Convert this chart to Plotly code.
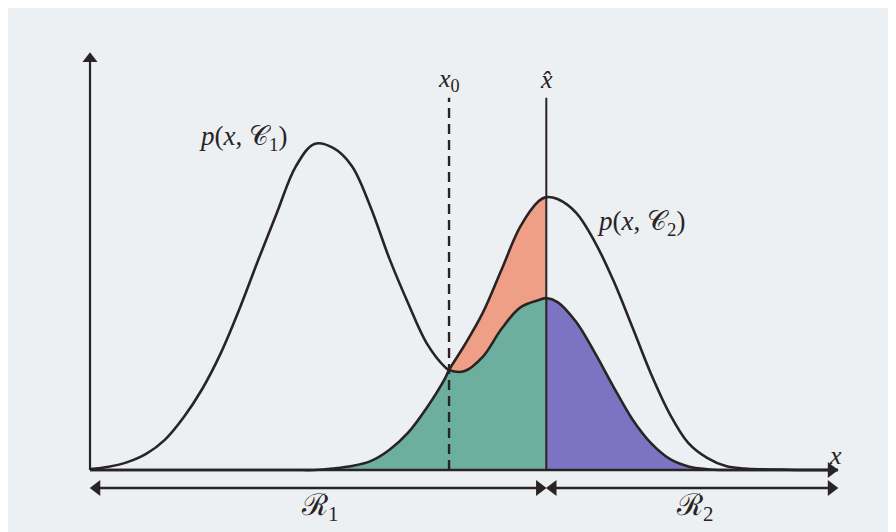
import plotly.graph_objects as go

# ---- data (arbitrary units) ----
x_grid = [0, 0.25, 0.5, 0.75, 1.0, 1.25, 1.5, 1.75, 2.0, 2.25, 2.5, 2.75, 3.0, 3.25,
          3.5, 3.75, 4.0, 4.25, 4.5, 4.75, 4.8, 5.0, 5.25, 5.5, 5.75, 6.0, 6.1, 6.25,
          6.5, 6.75, 7.0, 7.25, 7.5, 7.75, 8.0, 8.25, 8.5, 8.75, 9.0, 9.25, 9.5, 9.75, 10.0]

p_x_c1 = [0.003, 0.010, 0.024, 0.049, 0.092, 0.16, 0.247, 0.357, 0.492, 0.641, 0.785, 0.925,
          0.994, 0.982, 0.927, 0.802, 0.646, 0.510, 0.387, 0.313, 0.305, 0.301, 0.345, 0.43,
          0.495, 0.518, 0.524, 0.512, 0.451, 0.357, 0.253, 0.155, 0.082, 0.034, 0.011, 0.0025,
          0.0, 0.0, 0.0, 0.0, 0.0, 0.0, 0.0]

p_x_c2 = [0.0, 0.0, 0.0, 0.0, 0.0, 0.0, 0.0, 0.0, 0.0, 0.0, 0.0, 0.0, 0.0, 0.0045,
          0.012, 0.027, 0.061, 0.113, 0.189, 0.281, 0.305, 0.378, 0.479, 0.61, 0.741, 0.82,
          0.832, 0.826, 0.784, 0.695, 0.576, 0.436, 0.293, 0.171, 0.082, 0.037, 0.012, 0.0045,
          0.002, 0.001, 0.0, 0.0, 0.0]

x0_val = 4.8      # decision boundary x0
xhat_val = 6.1    # chosen boundary x-hat
x_axis_end = 10.0
y_axis_top = 1.274
region_arrow_y = -0.055

labels = {
    "c1": "<i>p</i>(<i>x</i>, 𝒞<sub>1</sub>)",
    "c2": "<i>p</i>(<i>x</i>, 𝒞<sub>2</sub>)",
    "x0": "<i>x</i><sub>0</sub>",
    "xhat": "<i>x̂</i>",
    "x": "<i>x</i>",
    "r1": "ℛ<sub>1</sub>",
    "r2": "ℛ<sub>2</sub>",
}

# ---- styles ----
INK = "#2a2324"
RED = "#ef9f86"
GREEN = "#6daf9f"
PURPLE = "#7c74c2"
BG = "#edf0f2"
FONT = "Liberation Serif"
HEAD = 0.09   # arrowhead inset (x units)
HEAD_Y = 0.02

i0 = x_grid.index(x0_val)
ih = x_grid.index(xhat_val)
lower = [min(a, b) for a, b in zip(p_x_c1, p_x_c2)]
upper = [max(a, b) for a, b in zip(p_x_c1, p_x_c2)]

fig = go.Figure()

# green region: under the lower envelope in R1
fig.add_trace(go.Scatter(x=x_grid[:ih + 1], y=lower[:ih + 1], mode="lines",
                         line=dict(width=0, shape="spline"), fill="tozeroy",
                         fillcolor=GREEN, hoverinfo="skip"))
# red region: between curves from x0 to x-hat
fig.add_trace(go.Scatter(x=x_grid[i0:ih + 1], y=lower[i0:ih + 1], mode="lines",
                         line=dict(width=0, shape="spline"), hoverinfo="skip"))
fig.add_trace(go.Scatter(x=x_grid[i0:ih + 1], y=upper[i0:ih + 1], mode="lines",
                         line=dict(width=0, shape="spline"), fill="tonexty",
                         fillcolor=RED, hoverinfo="skip"))
# purple region: under p(x,C1) in R2
fig.add_trace(go.Scatter(x=x_grid[ih:], y=p_x_c1[ih:], mode="lines",
                         line=dict(width=0, shape="spline"), fill="tozeroy",
                         fillcolor=PURPLE, hoverinfo="skip"))

# curves
fig.add_trace(go.Scatter(x=x_grid, y=p_x_c1, mode="lines",
                         line=dict(color=INK, width=2.6, shape="spline"), hoverinfo="skip"))
fig.add_trace(go.Scatter(x=x_grid, y=p_x_c2, mode="lines",
                         line=dict(color=INK, width=2.6, shape="spline"), hoverinfo="skip"))

# vertical lines
fig.add_trace(go.Scatter(x=[x0_val, x0_val], y=[0, 1.135], mode="lines",
                         line=dict(color=INK, width=2.4, dash="10px,6px"), hoverinfo="skip"))
fig.add_trace(go.Scatter(x=[xhat_val, xhat_val], y=[0, 1.135], mode="lines",
                         line=dict(color=INK, width=2.0), hoverinfo="skip"))

def seg(xs, ys, w=2.4):
    fig.add_trace(go.Scatter(x=xs, y=ys, mode="lines", line=dict(color=INK, width=w),
                             hoverinfo="skip"))

def heads(xs, ys, symbols, size=14):
    fig.add_trace(go.Scatter(x=xs, y=ys, mode="markers",
                             marker=dict(symbol=symbols, size=size, color=INK,
                                         line=dict(width=0)),
                             hoverinfo="skip"))

# axes
seg([0, x_axis_end - HEAD], [0, 0], 2.6)
seg([0, 0], [0, y_axis_top - HEAD_Y], 2.2)
heads([x_axis_end - HEAD], [0], ["triangle-right"])
heads([0], [y_axis_top - HEAD_Y], ["triangle-up"], 13)

# region arrows
seg([HEAD, xhat_val - HEAD], [region_arrow_y] * 2)
seg([xhat_val + HEAD, x_axis_end - HEAD], [region_arrow_y] * 2)
heads([HEAD, xhat_val - HEAD, xhat_val + HEAD, x_axis_end - HEAD], [region_arrow_y] * 4,
      ["triangle-left", "triangle-right", "triangle-left", "triangle-right"])

def label(key, x, y, size=27):
    fig.add_annotation(x=x, y=y, xref="x", yref="y", text=labels[key], showarrow=False,
                       font=dict(family=FONT, size=size, color=INK),
                       xanchor="center", yanchor="middle")

label("c1", 2.045, 1.012)
label("c2", 7.37, 0.753)
label("x0", x0_val, 1.19, 26)
label("xhat", xhat_val, 1.19, 26)
label("x", 9.96, 0.045, 26)
label("r1", 3.07, -0.113, 30)
label("r2", 8.09, -0.113, 30)

fig.update_layout(
    width=896, height=532, margin=dict(l=0, r=0, t=0, b=0),
    paper_bgcolor=BG, plot_bgcolor=BG, showlegend=False,
    xaxis=dict(range=[-1.0963, 10.882], visible=False, fixedrange=True),
    yaxis=dict(range=[-0.2134, 1.4085], visible=False, fixedrange=True),
)

fig.write_html("out.html")
